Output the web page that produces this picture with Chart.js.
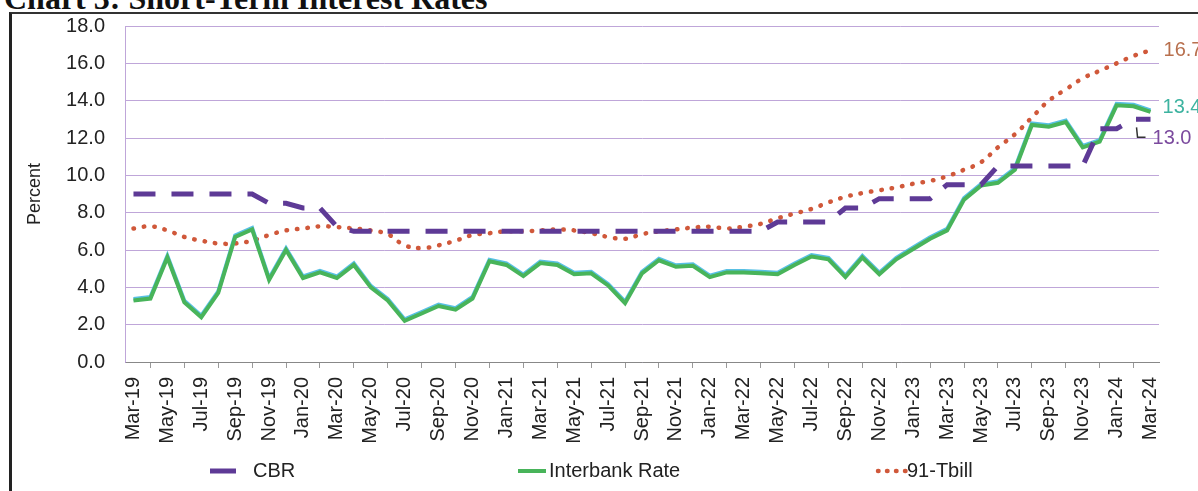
<!DOCTYPE html>
<html>
<head>
<meta charset="utf-8">
<script src="https://cdn.jsdelivr.net/npm/chart.js@4.4.0/dist/chart.umd.min.js"></script>
<style>
  body { margin: 0; background: #fff; overflow: hidden; }
  #contenedor { position: relative; width: 1198px; height: 491px; overflow: hidden; background: #fff; }
  #titulo { position: absolute; left: 4px; top: -20px; font: bold 32px "Liberation Serif", "Times New Roman", serif; white-space: nowrap; color: #111; }
  #marco { position: absolute; left: 9px; top: 12px; width: 1210px; height: 500px; border-left: 3px solid #222; border-top: 2px solid #333; }
  #grafica { position: absolute; left: 0; top: 0; }
</style>
</head>
<body>
<div id="contenedor">
  <div id="titulo">Chart 3: Short-Term Interest Rates</div>
  <div id="marco"></div>
  <canvas id="grafica" width="1198" height="491"></canvas>
</div>
<script>
// MESES (MAR-19 A MAR-24)
const meses = [
  'Mar-19', 'Apr-19', 'May-19', 'Jun-19', 'Jul-19', 'Aug-19', 'Sep-19', 'Oct-19', 'Nov-19', 'Dec-19',
  'Jan-20', 'Feb-20', 'Mar-20', 'Apr-20', 'May-20', 'Jun-20', 'Jul-20', 'Aug-20', 'Sep-20', 'Oct-20',
  'Nov-20', 'Dec-20', 'Jan-21', 'Feb-21', 'Mar-21', 'Apr-21', 'May-21', 'Jun-21', 'Jul-21', 'Aug-21',
  'Sep-21', 'Oct-21', 'Nov-21', 'Dec-21', 'Jan-22', 'Feb-22', 'Mar-22', 'Apr-22', 'May-22', 'Jun-22',
  'Jul-22', 'Aug-22', 'Sep-22', 'Oct-22', 'Nov-22', 'Dec-22', 'Jan-23', 'Feb-23', 'Mar-23', 'Apr-23',
  'May-23', 'Jun-23', 'Jul-23', 'Aug-23', 'Sep-23', 'Oct-23', 'Nov-23', 'Dec-23', 'Jan-24', 'Feb-24',
  'Mar-24'
];

const cbr = [
  9.0, 9.0, 9.0, 9.0, 9.0, 9.0, 9.0, 9.0, 8.5, 8.5,
  8.25, 8.25, 7.25, 7.0, 7.0, 7.0, 7.0, 7.0, 7.0, 7.0,
  7.0, 7.0, 7.0, 7.0, 7.0, 7.0, 7.0, 7.0, 7.0, 7.0,
  7.0, 7.0, 7.0, 7.0, 7.0, 7.0, 7.0, 7.0, 7.5, 7.5,
  7.5, 7.5, 8.25, 8.25, 8.75, 8.75, 8.75, 8.75, 9.5, 9.5,
  9.5, 10.5, 10.5, 10.5, 10.5, 10.5, 10.5, 12.5, 12.5, 13.0,
  13.0
];

const interbancaria = [
  3.3, 3.4, 5.6, 3.2, 2.4, 3.7, 6.7, 7.1, 4.4, 6.0,
  4.5, 4.8, 4.5, 5.2, 4.0, 3.3, 2.2, 2.6, 3.0, 2.8,
  3.4, 5.4, 5.2, 4.6, 5.3, 5.2, 4.7, 4.75, 4.1, 3.15,
  4.75, 5.45, 5.1, 5.15, 4.55, 4.8, 4.8, 4.75, 4.7, 5.2,
  5.65, 5.5, 4.55, 5.6, 4.7, 5.5, 6.05, 6.6, 7.05, 8.7,
  9.45, 9.6, 10.3, 12.7, 12.6, 12.85, 11.5, 11.8, 13.75, 13.7,
  13.4
];

const tbill91 = [
  7.15, 7.27, 7.05, 6.7, 6.5, 6.35, 6.35, 6.5, 6.8, 7.05,
  7.15, 7.27, 7.23, 7.15, 7.05, 6.85, 6.25, 6.1, 6.25, 6.5,
  6.8, 6.9, 7.0, 7.0, 7.05, 7.1, 7.05, 6.9, 6.7, 6.6,
  6.85, 7.0, 7.1, 7.2, 7.25, 7.15, 7.25, 7.4, 7.7, 7.95,
  8.2, 8.55, 8.85, 9.05, 9.2, 9.35, 9.55, 9.7, 9.95, 10.3,
  10.7, 11.5, 12.2, 13.1, 14.0, 14.6, 15.2, 15.6, 16.0, 16.4,
  16.7
];

const ticksY = [0, 2, 4, 6, 8, 10, 12, 14, 16, 18];

const fuente = '"Liberation Sans", Arial, sans-serif';

// ETIQUETAS AL FINAL DE CADA SERIE
const etiquetasFinales = {
  id: 'etiquetasFinales',
  afterDatasetsDraw(chart) {
    const ctx = chart.ctx;
    const ajustes = [
      { dx: 2, dy: 19, color: '#7b4a9e' },
      { dx: 12, dy: -4, color: '#3db3a0' },
      { dx: 13, dy: 0, color: '#b8704e' }
    ];
    ctx.save();
    ctx.font = '20px ' + fuente;
    ctx.textBaseline = 'middle';
    chart.data.datasets.forEach((ds, i) => {
      const meta = chart.getDatasetMeta(i);
      const punto = meta.data[meta.data.length - 1];
      const valor = ds.data[ds.data.length - 1];
      const a = ajustes[i];
      ctx.fillStyle = a.color;
      ctx.fillText(valor.toFixed(1), punto.x + a.dx, punto.y + a.dy);
      if (i === 0) {
        // linea guia de la etiqueta CBR
        ctx.strokeStyle = '#333';
        ctx.lineWidth = 1.5;
        ctx.beginPath();
        ctx.moveTo(punto.x - 14, punto.y + 8);
        ctx.lineTo(punto.x - 13, punto.y + 18);
        ctx.lineTo(punto.x - 5, punto.y + 18);
        ctx.stroke();
      }
    });
    ctx.restore();
  }
};

// SOMBRA CIAN DE LA LINEA INTERBANCARIA
const sombraInterbancaria = {
  id: 'sombraInterbancaria',
  beforeDatasetDraw(chart, args) {
    if (args.index !== 1) return;
    const ctx = chart.ctx;
    ctx.save();
    ctx.shadowColor = 'rgba(70, 185, 225, 0.9)';
    ctx.shadowOffsetY = -1.5;
    ctx.shadowBlur = 0;
  },
  afterDatasetDraw(chart, args) {
    if (args.index !== 1) return;
    chart.ctx.restore();
  }
};

// LEYENDA INFERIOR
const leyenda = {
  id: 'leyenda',
  afterDraw(chart) {
    const ctx = chart.ctx;
    const inicioX = [210, 518, 878];
    const textoX = [253, 549, 907];
    const largo = [26, 28, 28];
    const y = 471;
    ctx.save();
    ctx.font = '20px ' + fuente;
    ctx.textBaseline = 'middle';
    chart.data.datasets.forEach((ds, i) => {
      ctx.strokeStyle = ds.borderColor;
      ctx.lineWidth = ds.borderWidth;
      ctx.lineCap = ds.borderCapStyle || 'butt';
      ctx.setLineDash(ds.legendDash || []);
      ctx.beginPath();
      ctx.moveTo(inicioX[i], y);
      ctx.lineTo(inicioX[i] + largo[i], y);
      ctx.stroke();
      ctx.setLineDash([]);
      ctx.fillStyle = '#222';
      ctx.fillText(ds.label, textoX[i], y);
    });
    ctx.restore();
  }
};

const colorGrilla = 'rgba(180, 150, 210, 0.85)';

new Chart(document.getElementById('grafica'), {
  type: 'line',
  data: {
    labels: meses,
    datasets: [
      {
        label: 'CBR',
        data: cbr,
        borderColor: '#5e3a96',
        borderWidth: 5,
        borderDash: [22, 16],
        legendDash: [],
        borderCapStyle: 'butt',
        pointRadius: 0,
        tension: 0
      },
      {
        label: 'Interbank Rate',
        data: interbancaria,
        borderColor: '#48b45a',
        borderWidth: 4,
        pointRadius: 0,
        tension: 0
      },
      {
        label: '91-Tbill',
        data: tbill91,
        borderColor: '#d0583a',
        borderWidth: 4.5,
        borderDash: [0.5, 10],
        legendDash: [0.5, 8.5],
        borderCapStyle: 'round',
        pointRadius: 0,
        tension: 0.4
      }
    ]
  },
  options: {
    responsive: false,
    animation: false,
    devicePixelRatio: 1,
    layout: { padding: { top: 26, right: 39, bottom: 46, left: 0 } },
    plugins: {
      legend: { display: false },
      tooltip: { enabled: false }
    },
    scales: {
      x: {
        offset: true,
        grid: { drawOnChartArea: false, drawTicks: true, tickLength: 6, color: '#999', offset: true },
        border: { color: '#888' },
        ticks: {
          autoSkip: false,
          minRotation: 90,
          maxRotation: 90,
          padding: 9,
          color: '#222',
          font: { family: fuente, size: 20 },
          callback: (valor, i) => (i % 2 === 0 ? meses[i] : null)
        },
        afterFit: (escala) => { escala.height = 83; }
      },
      y: {
        min: 0,
        max: 18,
        afterBuildTicks: (escala) => { escala.ticks = ticksY.map((v) => ({ value: v })); },
        grid: { color: colorGrilla, drawTicks: false },
        border: { color: colorGrilla },
        ticks: {
          padding: 20,
          color: '#222',
          font: { family: fuente, size: 20 },
          callback: (valor) => valor.toFixed(1)
        },
        title: {
          display: true,
          text: 'Percent',
          color: '#222',
          font: { family: fuente, size: 18 },
          padding: { top: 24, bottom: 0 }
        },
        afterFit: (escala) => {
          escala.width = 125;
          escala.paddingTop = 0;
          escala.paddingBottom = 0;
        }
      }
    }
  },
  plugins: [sombraInterbancaria, etiquetasFinales, leyenda]
});
</script>
</body>
</html>
